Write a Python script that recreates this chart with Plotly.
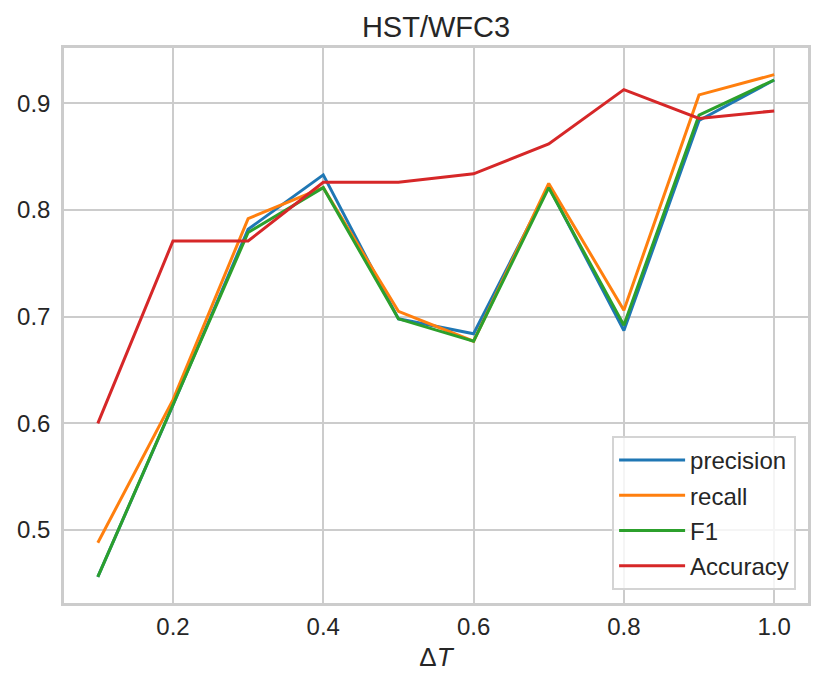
import plotly.graph_objects as go

delta_t = [0.1, 0.2, 0.3, 0.4, 0.5, 0.6, 0.7, 0.8, 0.9, 1.0]
precision = [0.456, 0.617, 0.782, 0.833, 0.698, 0.684, 0.822, 0.687, 0.884, 0.922]
recall = [0.488, 0.622, 0.792, 0.821, 0.705, 0.677, 0.825, 0.706, 0.908, 0.927]
f1 = [0.456, 0.618, 0.779, 0.821, 0.698, 0.677, 0.821, 0.692, 0.889, 0.922]
accuracy = [0.600, 0.771, 0.771, 0.826, 0.826, 0.834, 0.862, 0.913, 0.886, 0.893]

x_ticks = [0.2, 0.4, 0.6, 0.8, 1.0]
x_tick_labels = ["0.2", "0.4", "0.6", "0.8", "1.0"]
y_ticks = [0.5, 0.6, 0.7, 0.8, 0.9]
y_tick_labels = ["0.5", "0.6", "0.7", "0.8", "0.9"]

series = [
    ("precision", precision, "#1f77b4"),
    ("recall", recall, "#ff7f0e"),
    ("F1", f1, "#2ca02c"),
    ("Accuracy", accuracy, "#d62728"),
]

fig = go.Figure()
for name, vals, color in series:
    fig.add_trace(go.Scatter(x=delta_t, y=vals, mode="lines", name=name,
                             legendgroup=name,
                             line=dict(color=color, width=3)))

W, H = 815, 679
font_family = "Liberation Sans, Arial, sans-serif"
fig.update_layout(
    width=W, height=H,
    margin=dict(l=56, r=15, t=40, b=84, autoexpand=False),
    paper_bgcolor="white", plot_bgcolor="white",
    font=dict(family=font_family, size=24, color="#262626"),
    title=dict(text="HST/WFC3", x=0.5, xref="paper", xanchor="center",
               y=1 - 19 / H, yanchor="middle", font=dict(size=29, color="#262626")),
    showlegend=True,
    legend=dict(x=0.984, y=0.0234, xanchor="right", yanchor="bottom",
                bgcolor="rgba(255,255,255,0.8)", bordercolor="#d4d4d4", borderwidth=2,
                font=dict(size=24, color="#262626"), tracegroupgap=1,
                traceorder="grouped", itemwidth=66),
)
fig.update_xaxes(range=[0.055, 1.045], tickvals=x_ticks, ticktext=x_tick_labels,
                 showgrid=True, gridcolor="#cccccc", gridwidth=2, zeroline=False,
                 showline=True, linecolor="#cccccc", linewidth=2.5, mirror=True,
                 ticks="", ticklabelstandoff=0, automargin=False,
                 title=dict(text="Δ<i>T</i>", font=dict(size=26, color="#262626"), standoff=10))
fig.update_yaxes(range=[0.4315, 0.952], tickvals=y_ticks, ticktext=y_tick_labels,
                 showgrid=True, gridcolor="#cccccc", gridwidth=2, zeroline=False,
                 showline=True, linecolor="#cccccc", linewidth=2.5, mirror=True,
                 ticks="", ticklabelstandoff=6, automargin=False)

fig.write_html("out.html")
